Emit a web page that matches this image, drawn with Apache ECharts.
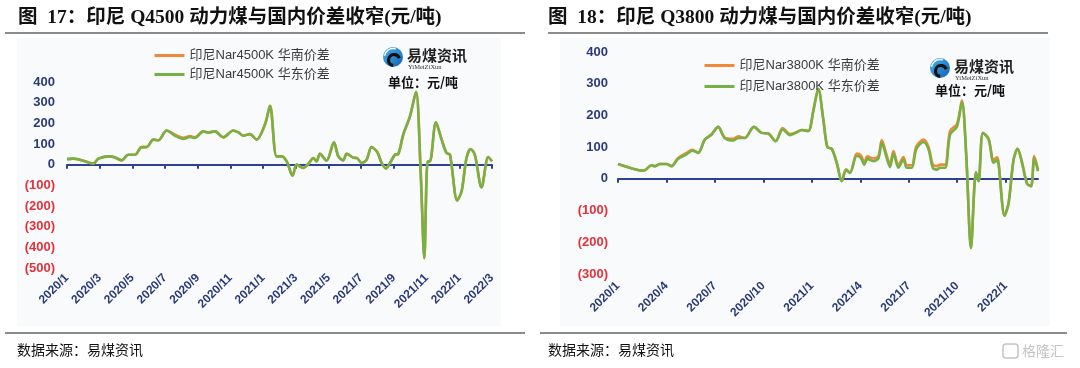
<!DOCTYPE html>
<html><head><meta charset="utf-8">
<script src="https://cdn.jsdelivr.net/npm/echarts@6/dist/echarts.min.js"></script>
<style>html,body{margin:0;padding:0;background:#fff}#c{width:1080px;height:368px}</style>
</head><body><div id="c"></div>
<script>
// ---------- data (x = months since 2020/1) ----------
const months4500 = [0,0.39,1.0,1.61,1.92,2.63,2.94,3.34,3.75,4.16,4.57,4.87,5.28,5.59,6.10,6.61,7.12,7.52,7.83,8.34,8.64,9.05,9.56,10.17,10.48,10.78,11.19,11.60,12.11,12.42,12.82,13.13,13.44,13.80,14.05,14.45,14.76,15.07,15.27,15.47,15.88,16.33,16.60,16.90,17.11,17.51,17.76,18.02,18.33,18.63,18.98,19.25,19.51,19.76,20.06,20.27,20.57,20.98,21.35,21.63,21.86,22.06,22.20,22.57,22.92,23.22,23.43,23.87,24.14,24.44,24.69,24.95,25.36,25.77,26.0];
const east4500 = [27,29,19,5,29,40,35,21,48,48,85,85,121,118,165,140,124,134,129,161,156,161,132,165,156,140,148,121,194,285,40,40,16,-53,0,-16,3,32,16,52,19,108,40,21,53,34,31,8,24,85,61,8,-18,8,48,52,145,234,352,-24,-452,16,16,205,121,56,48,-173,-129,32,76,48,-110,37,16];
const south4500 = [27,29,19,5,29,40,35,21,48,48,85,85,121,118,165,145,130,138,133,161,156,161,132,165,156,140,148,121,194,285,40,40,16,-53,0,-16,3,32,16,52,19,108,40,21,53,34,31,8,24,85,61,8,-18,8,48,52,145,234,352,-24,-452,16,16,205,121,56,48,-173,-129,32,76,48,-110,37,16];

const months3800 = [0,0.42,0.93,1.45,1.66,2.07,2.28,2.59,3.00,3.31,3.72,4.24,4.61,4.96,5.38,5.79,6.20,6.61,7.13,7.44,7.85,8.41,8.89,9.30,9.76,10.19,10.64,11.06,11.37,11.78,12.09,12.40,12.71,12.96,13.23,13.54,13.85,14.12,14.36,14.78,15.03,15.25,15.44,15.81,16.12,16.33,16.60,16.84,17.05,17.36,17.67,17.88,18.19,18.46,18.91,19.22,19.49,19.74,19.94,20.25,20.56,20.98,21.29,21.56,21.85,22.16,22.32,22.59,22.94,23.25,23.46,23.56,23.93,24.18,24.49,24.74,25.01,25.32,25.57,25.77,26.0];
const east3800 = [47,40,32,26,27,43,40,47,47,40,63,77,89,82,124,140,164,129,121,129,129,164,145,143,119,156,138,147,154,151,214,284,187,100,95,51,-7,29,19,72,66,45,63,56,64,114,72,37,80,35,61,35,35,93,116,93,35,29,35,35,140,164,242,72,-218,21,-7,145,126,51,59,45,-116,-76,61,95,51,-15,-23,64,24];
const south3800 = [47,40,32,26,27,43,40,47,47,40,66,82,92,82,124,140,164,129,126,134,129,164,145,143,119,160,142,147,154,151,214,284,187,100,95,51,-7,29,19,80,74,52,71,64,72,122,80,45,88,43,69,43,43,101,124,101,45,40,45,45,152,172,248,72,-218,21,-7,145,126,60,68,52,-116,-76,61,95,51,-15,-23,72,30];

const tickVals4500 = [0,2,4,6,8,10,12,14,16,18,20,22,24,26];
const tickLabels4500 = ['2020/1','2020/3','2020/5','2020/7','2020/9','2020/11','2021/1','2021/3','2021/5','2021/7','2021/9','2021/11','2022/1','2022/3'];
const tickVals3800 = [0,3,6,9,12,15,18,21,24];
const tickLabels3800 = ['2020/1','2020/4','2020/7','2020/10','2021/1','2021/4','2021/7','2021/10','2022/1'];

const names = ['印尼Nar4500K 华南价差','印尼Nar4500K 华东价差','印尼Nar3800K 华南价差','印尼Nar3800K 华东价差'];

// ---------- styling ----------
const NAVY = '#2b3a78', RED = '#e2323c', GREEN = '#77b143', ORANGE = '#f08a3a', AXIS = '#2d4294';
const LATIN = '"Liberation Sans","Noto Sans CJK SC",sans-serif';
const pairs = (xs, ys) => xs.map((x, i) => [x, ys[i]]);

function yLabel(margin) {
  return {
    margin: margin,
    formatter: v => v < 0 ? '{n|(' + (-v) + ')}' : '{p|' + v + '}',
    rich: {
      n: {color: RED, fontSize: 13, fontWeight: 'bold', fontFamily: LATIN},
      p: {color: NAVY, fontSize: 13, fontWeight: 'bold', fontFamily: LATIN}
    }
  };
}
function labelAxis(g, max, vals, labels, margin) {
  return {
    gridIndex: g, type: 'value', min: 0, max: max, position: 'bottom',
    axisLine: {show: false, onZero: false}, axisTick: {show: false}, splitLine: {show: false},
    axisLabel: {customValues: vals, rotate: 45, margin: margin, fontSize: 12, fontWeight: 'bold',
      color: NAVY, fontFamily: LATIN, formatter: v => labels[vals.indexOf(v)] || ''}
  };
}
function zeroAxis(g, max, vals) {
  return {
    gridIndex: g, type: 'value', min: 0, max: max, position: 'bottom',
    axisLine: {show: true, onZero: true, lineStyle: {color: AXIS, width: 2}},
    axisTick: {show: true, customValues: vals, length: 4, lineStyle: {color: AXIS, width: 2}},
    axisLabel: {show: false}, splitLine: {show: false}
  };
}
function lineSeries(name, xi, yi, data, color) {
  return {name: name, type: 'line', xAxisIndex: xi, yAxisIndex: yi, data: data, smooth: 0.3,
    symbol: 'none', lineStyle: {color: color, width: 2.6}, itemStyle: {color: color}, z: 3};
}
function logo(x, y, unitY) {
  return [
    {type: 'circle', shape: {cx: x + 10, cy: y + 10, r: 10}, style: {fill: new echarts.graphic.LinearGradient(0,0,1,1,[{offset:0,color:'#46b3f0'},{offset:1,color:'#1560b0'}])}},
    {type: 'arc', shape: {cx: x + 11, cy: y + 13, r: 5.5, startAngle: Math.PI * 0.55, endAngle: Math.PI * 1.9}, style: {stroke: '#111', lineWidth: 3.2, fill: null}},
    {type: 'arc', shape: {cx: x + 10, cy: y + 10, r: 8.5, startAngle: Math.PI * 1.05, endAngle: Math.PI * 1.6}, style: {stroke: '#fff', lineWidth: 1.5, fill: null}},
    {type: 'text', x: x + 24, y: y + 1, style: {text: '易煤资讯', font: 'bold 15px "Noto Sans CJK SC"', fill: '#222'}},
    {type: 'text', x: x + 25, y: y + 17, style: {text: 'YiMeiZiXun', font: '6.5px "Liberation Serif"', fill: '#333'}},
    {type: 'text', x: x + 5, y: unitY, style: {text: '单位：元/吨', font: 'bold 13px "Noto Sans CJK SC"', fill: '#111', verticalAlign: 'middle'}}
  ];
}

const TITLE_FONT = 'bold 19.5px "Liberation Serif","Noto Sans CJK SC",serif';
const graphics = [
  {type: 'rect', shape: {x: 17, y: 38, width: 484, height: 288}, style: {fill: '#f9fafc'}, z: -10},
  {type: 'rect', shape: {x: 560, y: 38, width: 490, height: 288}, style: {fill: '#f9fafc'}, z: -10},
  {type: 'text', x: 18, y: 18, style: {text: '图  17：印尼 Q4500 动力煤与国内价差收窄(元/吨)', font: TITLE_FONT, fill: '#111', verticalAlign: 'middle'}},
  {type: 'text', x: 548, y: 18, style: {text: '图  18：印尼 Q3800 动力煤与国内价差收窄(元/吨)', font: TITLE_FONT, fill: '#111', verticalAlign: 'middle'}},
  {type: 'rect', shape: {x: 5, y: 32, width: 520, height: 2}, style: {fill: '#8c8c8c'}},
  {type: 'rect', shape: {x: 548, y: 32, width: 500, height: 2}, style: {fill: '#8c8c8c'}},
  {type: 'rect', shape: {x: 5, y: 332, width: 520, height: 2}, style: {fill: '#8c8c8c'}},
  {type: 'rect', shape: {x: 540, y: 332, width: 527, height: 2}, style: {fill: '#8c8c8c'}},
  {type: 'text', x: 17, y: 350, style: {text: '数据来源：易煤资讯', font: '14px "Noto Sans CJK SC"', fill: '#111', verticalAlign: 'middle'}},
  {type: 'text', x: 548, y: 350, style: {text: '数据来源：易煤资讯', font: '14px "Noto Sans CJK SC"', fill: '#111', verticalAlign: 'middle'}},
  {type: 'rect', shape: {x: 1003, y: 344, width: 15, height: 14, r: 3}, style: {fill: null, stroke: '#c4c4c4', lineWidth: 1.5}},
  {type: 'text', x: 1022, y: 351, style: {text: '格隆汇', font: '14px "Noto Sans CJK SC"', fill: '#c4c4c4', verticalAlign: 'middle'}}
].concat(logo(383, 47, 82), logo(930, 58, 90));

const legendBase = {orient: 'vertical', itemWidth: 30, itemHeight: 12,
  itemStyle: {opacity: 0}, lineStyle: {width: 3},
  textStyle: {fontSize: 13, color: '#3c3c3c', fontFamily: LATIN}};

const option = {
  animation: false,
  backgroundColor: '#ffffff',
  grid: [
    {left: 67, top: 82, width: 425, height: 186},
    {left: 618, top: 52, width: 420, height: 222}
  ],
  legend: [
    Object.assign({data: [names[0], names[1]], left: 148, top: 44, itemGap: 6}, legendBase),
    Object.assign({data: [names[2], names[3]], left: 698, top: 54, itemGap: 8}, legendBase)
  ],
  xAxis: [
    labelAxis(0, 26, tickVals4500, tickLabels4500, 8),
    zeroAxis(0, 26, tickVals4500),
    labelAxis(1, 26, tickVals3800, tickLabels3800, 10),
    zeroAxis(1, 26, tickVals3800)
  ],
  yAxis: [
    {gridIndex: 0, type: 'value', min: -500, max: 400, interval: 100, axisLine: {show: false}, axisTick: {show: false}, splitLine: {show: false}, axisLabel: yLabel(12)},
    {gridIndex: 1, type: 'value', min: -300, max: 400, interval: 100, axisLine: {show: false}, axisTick: {show: false}, splitLine: {show: false}, axisLabel: yLabel(10)}
  ],
  series: [
    lineSeries(names[0], 1, 0, pairs(months4500, south4500), ORANGE),
    lineSeries(names[1], 1, 0, pairs(months4500, east4500), GREEN),
    lineSeries(names[2], 3, 1, pairs(months3800, south3800), ORANGE),
    lineSeries(names[3], 3, 1, pairs(months3800, east3800), GREEN)
  ],
  graphic: graphics
};
const chart = echarts.init(document.getElementById('c'), null, {renderer: 'canvas'});
chart.setOption(option);
</script></body></html>
